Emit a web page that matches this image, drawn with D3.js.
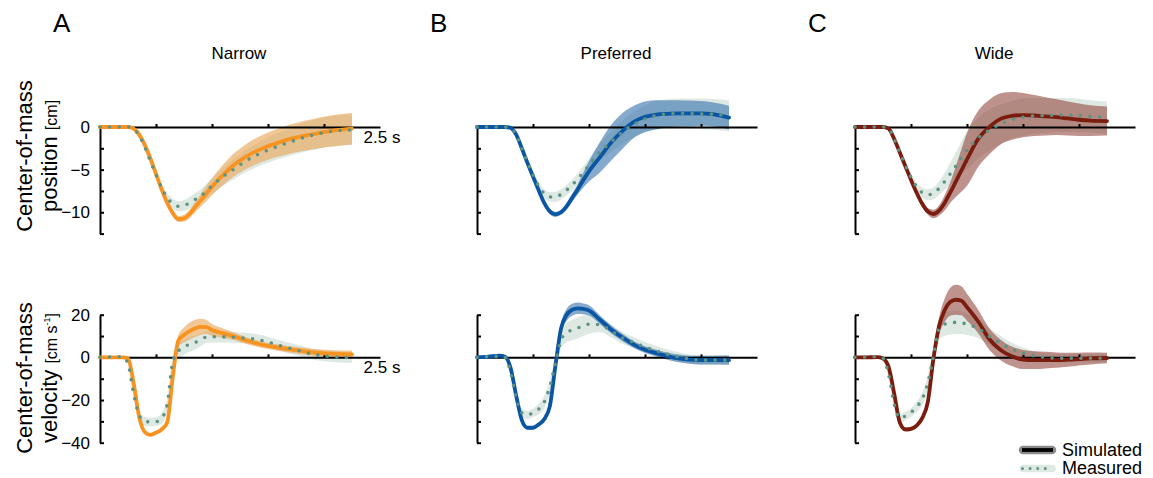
<!DOCTYPE html>
<html>
<head>
<meta charset="utf-8">
<script src="https://cdn.jsdelivr.net/npm/d3@7"></script>
<style>
  html, body { margin: 0; padding: 0; background: #fff; }
  svg { display: block; font-family: "Liberation Sans", Arial, Helvetica, sans-serif; }
</style>
</head>
<body>
<svg id="chart" width="1153" height="478"></svg>
<script>
// Time samples [s]
const T = [0, 0.1, 0.2, 0.25, 0.3, 0.35, 0.4, 0.45, 0.5, 0.55, 0.6, 0.65, 0.7, 0.75, 0.8, 0.85, 0.9, 0.95, 1.0,
           1.1, 1.2, 1.3, 1.4, 1.5, 1.6, 1.7, 1.8, 1.9, 2.0, 2.1, 2.25];

// Panel labels and conditions
const panelLetters = ["A", "B", "C"];
const conditions = ["Narrow", "Preferred", "Wide"];
const legendLabels = ["Simulated", "Measured"];

// Tick labels
const posTicks = [0, -2.5, -5, -7.5, -10, -12.5];
const posTickLabels = [0, -5, -10];
const velTicks = [20, 10, 0, -10, -20, -30, -40];
const velTickLabels = [20, 0, -20, -40];
const timeTicks = [0.5, 1.0, 1.5, 2.0];

// ---- Narrow: centre-of-mass position [cm] ----
const narrowSimPos   = [0, 0, 0, 0, -0.2, -0.9, -2.1, -3.7, -5.5, -7.3, -8.9, -10.1, -10.8, -10.7, -10.2, -9.4, -8.6, -7.8, -7.0,
                        -5.6, -4.4, -3.5, -2.8, -2.25, -1.8, -1.4, -1.1, -0.85, -0.6, -0.4, -0.2];
const narrowSimPosSd = [0.05, 0.05, 0.05, 0.05, 0.1, 0.15, 0.2, 0.25, 0.3, 0.3, 0.3, 0.35, 0.35, 0.4, 0.5, 0.6, 0.75, 0.9, 1.0,
                        1.2, 1.35, 1.45, 1.55, 1.6, 1.65, 1.7, 1.75, 1.8, 1.8, 1.85, 1.85];
const narrowMeasPos   = [0, 0, 0, 0, -0.25, -1.0, -2.4, -4.0, -5.6, -7.1, -8.3, -9.0, -9.3, -9.2, -8.9, -8.5, -8.1, -7.5, -6.9,
                         -5.8, -4.9, -4.0, -3.3, -2.7, -2.2, -1.75, -1.3, -0.95, -0.65, -0.45, -0.35];
const narrowMeasPosSd = [0.15, 0.15, 0.15, 0.15, 0.2, 0.3, 0.35, 0.4, 0.45, 0.5, 0.55, 0.6, 0.6, 0.65, 0.7, 0.75, 0.8, 0.85, 0.9,
                         1.05, 1.2, 1.3, 1.4, 1.5, 1.55, 1.6, 1.7, 1.75, 1.75, 1.8, 1.8];
// ---- Narrow: centre-of-mass velocity [cm/s] ----
const narrowSimVel   = [0, 0, 0, -0.5, -12, -28, -35, -36.3, -35.3, -33.8, -30.5, -9, 8, 10.5, 12.3, 13.6, 14.3, 14.2, 12.8,
                        11.3, 9.8, 8.0, 6.5, 5.4, 4.5, 3.7, 3.0, 2.3, 1.9, 1.6, 1.4];
const narrowSimVelSd = [0.3, 0.3, 0.3, 0.4, 0.8, 0.8, 0.8, 0.8, 0.8, 0.8, 1.0, 1.5, 2.5, 3.5, 4, 4, 3.8, 3.3, 2.8,
                        2.2, 1.8, 1.6, 1.5, 1.5, 1.5, 1.5, 1.6, 1.6, 1.7, 1.7, 1.8];
const narrowMeasVel   = [0, 0.2, 0.3, -3, -17, -27, -30, -30.3, -30.2, -28.5, -22, -2, 3, 4.8, 6.2, 7, 8.3, 9.5, 9.7,
                         9.6, 9.4, 9.0, 8.4, 7.2, 5.6, 4.2, 2.8, 1.5, 0.7, 0.2, -0.1];
const narrowMeasVelSd = [0.5, 0.5, 0.5, 0.8, 1.5, 1.8, 2, 2, 2, 2.5, 3, 3, 3.5, 3.5, 3.5, 3.3, 3, 2.8, 2.7,
                         2.6, 2.5, 2.5, 2.5, 2.5, 2.5, 2.5, 2.5, 2.5, 2.5, 2.5, 2.5];

// ---- Preferred: position ----
const prefSimPos   = [0, 0, 0, 0, -0.1, -0.9, -2.5, -4.2, -5.8, -7.4, -8.9, -9.9, -10.25, -10.0, -9.3, -8.3, -7.3, -6.2, -5.2,
                      -3.5, -1.8, -0.45, 0.6, 1.2, 1.45, 1.55, 1.6, 1.6, 1.6, 1.5, 1.1];
const prefSimPosSd = [0.05, 0.05, 0.05, 0.05, 0.1, 0.15, 0.2, 0.2, 0.2, 0.25, 0.25, 0.3, 0.3, 0.3, 0.4, 0.5, 0.6, 0.9, 1.2,
                      1.8, 2.1, 2.1, 1.9, 1.8, 1.7, 1.6, 1.55, 1.5, 1.45, 1.4, 1.4];
const prefMeasPos   = [0, 0, 0, 0, -0.15, -0.9, -2.5, -4.1, -5.6, -6.9, -7.8, -8.2, -8.2, -7.9, -7.4, -6.8, -6.1, -5.3, -4.5,
                       -2.9, -1.7, -0.6, 0.3, 0.95, 1.35, 1.55, 1.6, 1.6, 1.55, 1.5, 1.3];
const prefMeasPosSd = [0.1, 0.1, 0.1, 0.1, 0.2, 0.3, 0.3, 0.35, 0.4, 0.45, 0.5, 0.55, 0.6, 0.6, 0.6, 0.65, 0.7, 0.75, 0.8,
                       1.0, 1.2, 1.35, 1.5, 1.6, 1.7, 1.7, 1.75, 1.75, 1.8, 1.8, 1.8];
// ---- Preferred: velocity ----
const prefSimVel   = [0, 0.3, 0.8, 0.3, -5, -18, -29.4, -33, -33, -31.5, -29, -23, -4, 13.5, 19.9, 22.3, 23, 22.7, 22,
                      17.5, 13.0, 9.3, 6.0, 3.6, 2.0, 0.6, -0.5, -1.1, -1.3, -1.3, -1.3];
const prefSimVelSd = [0.3, 0.3, 0.3, 0.4, 0.8, 0.8, 0.8, 0.8, 0.8, 0.8, 0.9, 1.0, 1.5, 2.5, 2.8, 2.8, 2.7, 2.5, 2.4,
                      2.0, 1.8, 1.7, 1.6, 1.6, 1.6, 1.7, 1.8, 1.9, 2.0, 2.1, 2.2];
const prefMeasVel   = [0, 0.3, 0.5, 0, -7, -19, -26, -27, -26, -24.3, -21, -13.8, -2.8, 8, 11.6, 12.8, 13.8, 14.8, 15.6,
                       15.3, 12.3, 9.1, 7.0, 4.8, 3.1, 1.5, 0.2, -0.8, -1.3, -1.3, -1.3];
const prefMeasVelSd = [0.5, 0.5, 0.5, 0.8, 1.5, 1.8, 2, 2, 2, 2.5, 3, 3.2, 3.5, 4, 4.5, 4.8, 5, 4.8, 4.5,
                       3.5, 3.0, 2.8, 2.5, 2.4, 2.2, 2.2, 2.2, 2.2, 2.2, 2.2, 2.2];

// ---- Wide: position ----
const wideSimPos   = [0, 0, 0, 0, -0.2, -1.4, -3.0, -4.6, -6.2, -7.7, -9.0, -9.9, -10.2, -9.8, -8.9, -7.7, -6.4, -5.1, -3.8,
                      -1.4, 0.0, 0.95, 1.3, 1.4, 1.35, 1.25, 1.15, 1.0, 0.85, 0.75, 0.7];
const wideSimPosSd = [0.05, 0.05, 0.05, 0.05, 0.1, 0.15, 0.2, 0.2, 0.25, 0.3, 0.35, 0.4, 0.5, 0.6, 0.9, 1.2, 1.8, 2.5, 3.1,
                      3.3, 3.2, 3.0, 2.8, 2.6, 2.4, 2.25, 2.1, 2.0, 1.9, 1.8, 1.7];
const wideMeasPos   = [0, 0, 0, 0, -0.2, -1.4, -3.0, -4.5, -5.9, -7.0, -7.7, -7.95, -7.8, -7.2, -6.4, -5.5, -4.6, -3.6, -2.7,
                       -1.3, -0.35, 0.35, 0.85, 1.15, 1.3, 1.35, 1.4, 1.4, 1.35, 1.25, 1.1];
const wideMeasPosSd = [0.1, 0.1, 0.1, 0.1, 0.2, 0.3, 0.35, 0.4, 0.45, 0.5, 0.6, 0.65, 0.7, 0.8, 1.0, 1.3, 1.6, 1.9, 2.2,
                       2.4, 2.4, 2.3, 2.2, 2.2, 2.1, 2.05, 2.0, 2.0, 1.95, 1.9, 1.9];
// ---- Wide: velocity ----
const wideSimVel   = [0, 0, 0.1, -0.5, -4.5, -17, -30.5, -33.8, -33.5, -32, -28.5, -21, -0.8, 14.5, 22, 26, 27, 26.5, 23.5,
                      16.8, 8.5, 3.5, 0.5, -1.0, -1.3, -1.3, -1.3, -1.1, -0.8, -0.5, -0.3];
const wideSimVelSd = [0.3, 0.3, 0.3, 0.4, 1, 1, 1, 1, 1, 1, 1.2, 1.5, 2.5, 4, 5.5, 6.5, 7, 6.8, 6.3,
                      5.5, 5, 4.8, 4.6, 4.5, 4.2, 3.9, 3.6, 3.3, 3.0, 2.8, 2.5];
const wideMeasVel   = [0, 0.2, 0.3, -0.5, -8, -22, -28.5, -27.5, -25.8, -23.2, -19.5, -12, 0.5, 13.5, 15.5, 16.2, 16.4, 16.2, 15.5,
                       13.5, 9.8, 6.6, 3.8, 2.0, 0.7, 0, -0.4, -0.4, -0.4, -0.4, -0.4];
const wideMeasVelSd = [0.5, 0.5, 0.5, 0.8, 1.5, 1.8, 2, 2, 2, 2.5, 3, 3.5, 4, 5, 5.5, 5.5, 5.5, 5.3, 5,
                       4.5, 4, 3.5, 3, 2.6, 2.2, 2.1, 2, 2, 2, 2, 2];

// Per-panel styling and data
const panels = [
  { letter: panelLetters[0], title: conditions[0], x0: 100, line: "#f7931e", band: "#e8a456", bandOpacity: 0.62,
    simPos: narrowSimPos, simPosSd: narrowSimPosSd, measPos: narrowMeasPos, measPosSd: narrowMeasPosSd,
    simVel: narrowSimVel, simVelSd: narrowSimVelSd, measVel: narrowMeasVel, measVelSd: narrowMeasVelSd, labels: true },
  { letter: panelLetters[1], title: conditions[1], x0: 477, line: "#0b56a3", band: "#2e6ca9", bandOpacity: 0.58,
    simPos: prefSimPos, simPosSd: prefSimPosSd, measPos: prefMeasPos, measPosSd: prefMeasPosSd,
    simVel: prefSimVel, simVelSd: prefSimVelSd, measVel: prefMeasVel, measVelSd: prefMeasVelSd, labels: false },
  { letter: panelLetters[2], title: conditions[2], x0: 855, line: "#7a1c0e", band: "#8a3a30", bandOpacity: 0.55,
    simPos: wideSimPos, simPosSd: wideSimPosSd, measPos: wideMeasPos, measPosSd: wideMeasPosSd,
    simVel: wideSimVel, simVelSd: wideSimVelSd, measVel: wideMeasVel, measVelSd: wideMeasVelSd, labels: false }
];

const MEAS_BAND = "#dfe9e4";
const MEAS_DOT = "#5e9383";
const FONT = 17;

const svg = d3.select("#chart");
const idx = d3.range(T.length);
const minus = v => (v < 0 ? "\u2212" + Math.abs(v) : String(v));

// Vertical scales shared by all panels
const yPos = d3.scaleLinear().domain([-12.5, 0]).range([233.6, 127]);
const yVel = d3.scaleLinear().domain([-40, 20]).range([442.7, 314.7]);

function drawRow(g, x, y, sim, simSd, meas, measSd, p, yTicks, yLabels, xLabelY) {
  const area = (m, s) => d3.area()
    .x(i => x(T[i])).y0(i => y(m[i] - s[i])).y1(i => y(m[i] + s[i]))
    .curve(d3.curveMonotoneX);
  const line = m => d3.line().x(i => x(T[i])).y(i => y(m[i])).curve(d3.curveMonotoneX);

  g.append("path").attr("d", area(meas, measSd)(idx)).attr("fill", MEAS_BAND);
  g.append("path").attr("d", area(sim, simSd)(idx)).attr("fill", p.band).attr("fill-opacity", p.bandOpacity);

  // time axis along zero
  const xa = g.append("g").attr("transform", `translate(0,${y(0)})`)
    .call(d3.axisBottom(x).tickValues(timeTicks).tickSizeInner(-3).tickSizeOuter(0).tickFormat(""));
  xa.select(".domain").attr("stroke", "#000").attr("stroke-width", 2);
  xa.selectAll(".tick line").attr("stroke", "#000").attr("stroke-width", 2);

  // value axis
  const ya = g.append("g").attr("transform", `translate(${p.x0},0)`)
    .call(d3.axisLeft(y).tickValues(yTicks).tickSizeInner(-4).tickSizeOuter(0).tickPadding(10)
      .tickFormat(v => (p.labels && yLabels.includes(v)) ? minus(v) : ""));
  ya.select(".domain").attr("stroke", "#000").attr("stroke-width", 2);
  ya.selectAll(".tick line").attr("stroke", "#000").attr("stroke-width", 2);
  ya.selectAll(".tick text").attr("font-size", FONT).attr("fill", "#000")
    .attr("font-family", "'Liberation Sans', Arial, Helvetica, sans-serif");

  g.append("path").attr("d", line(sim)(idx)).attr("fill", "none")
    .attr("stroke", p.line).attr("stroke-width", 3.8).attr("stroke-linejoin", "round").attr("stroke-linecap", "round");
  g.append("path").attr("d", line(meas)(idx)).attr("fill", "none")
    .attr("stroke", MEAS_DOT).attr("stroke-width", 3.6).attr("stroke-linecap", "round")
    .attr("stroke-dasharray", "0,9.6");

  if (p.labels) {
    g.append("text").attr("x", x(2.5) + 2).attr("y", y(0) + xLabelY)
      .attr("text-anchor", "middle").attr("font-size", FONT).text("2.5 s");
  }
}

panels.forEach(p => {
  const x = d3.scaleLinear().domain([0, 2.5]).range([p.x0, p.x0 + 280]);
  const g = svg.append("g");

  g.append("text").attr("x", p.x0 - 47).attr("y", 32).attr("font-size", 26).text(p.letter);
  g.append("text").attr("x", p.x0 + 139).attr("y", 59).attr("text-anchor", "middle")
    .attr("font-size", FONT).text(p.title);

  drawRow(g.append("g"), x, yPos, p.simPos, p.simPosSd, p.measPos, p.measPosSd, p, posTicks, posTickLabels, 16);
  drawRow(g.append("g"), x, yVel, p.simVel, p.simVelSd, p.measVel, p.measVelSd, p, velTicks, velTickLabels, 16);
});

// Y-axis titles
function yTitle(cy, second, unitParts) {
  svg.append("text").attr("transform", `translate(32,${cy}) rotate(-90)`)
    .attr("text-anchor", "middle").attr("font-size", 22).text("Center-of-mass");
  const t2 = svg.append("text").attr("transform", `translate(57,${cy}) rotate(-90)`)
    .attr("text-anchor", "middle").attr("font-size", 22);
  t2.append("tspan").text(second + " ");
  unitParts.forEach(u => {
    const s = t2.append("tspan").attr("font-size", u.size).text(u.text);
    if (u.dy) s.attr("dy", u.dy);
  });
}
yTitle(156, "position", [{ text: "[cm]", size: 16 }]);
yTitle(378, "velocity", [{ text: "[cm s", size: 16 }, { text: "-1", size: 9, dy: -7 }, { text: "]", size: 16, dy: 7 }]);

// Legend
const lg = svg.append("g");
lg.append("line").attr("x1", 1023).attr("x2", 1052).attr("y1", 450).attr("y2", 450)
  .attr("stroke", "#8a8a8a").attr("stroke-width", 8.5).attr("stroke-linecap", "round");
lg.append("line").attr("x1", 1022).attr("x2", 1053).attr("y1", 450).attr("y2", 450)
  .attr("stroke", "#000").attr("stroke-width", 3.8);
lg.append("line").attr("x1", 1023).attr("x2", 1052).attr("y1", 468.5).attr("y2", 468.5)
  .attr("stroke", MEAS_BAND).attr("stroke-width", 7.5).attr("stroke-linecap", "round");
lg.append("line").attr("x1", 1022.5).attr("x2", 1052).attr("y1", 468.5).attr("y2", 468.5)
  .attr("stroke", MEAS_DOT).attr("stroke-width", 3).attr("stroke-linecap", "round").attr("stroke-dasharray", "0,7.6");
lg.append("text").attr("x", 1062).attr("y", 456).attr("font-size", FONT + 1).text(legendLabels[0]);
lg.append("text").attr("x", 1062).attr("y", 474).attr("font-size", FONT + 1).text(legendLabels[1]);
</script>
</body>
</html>
